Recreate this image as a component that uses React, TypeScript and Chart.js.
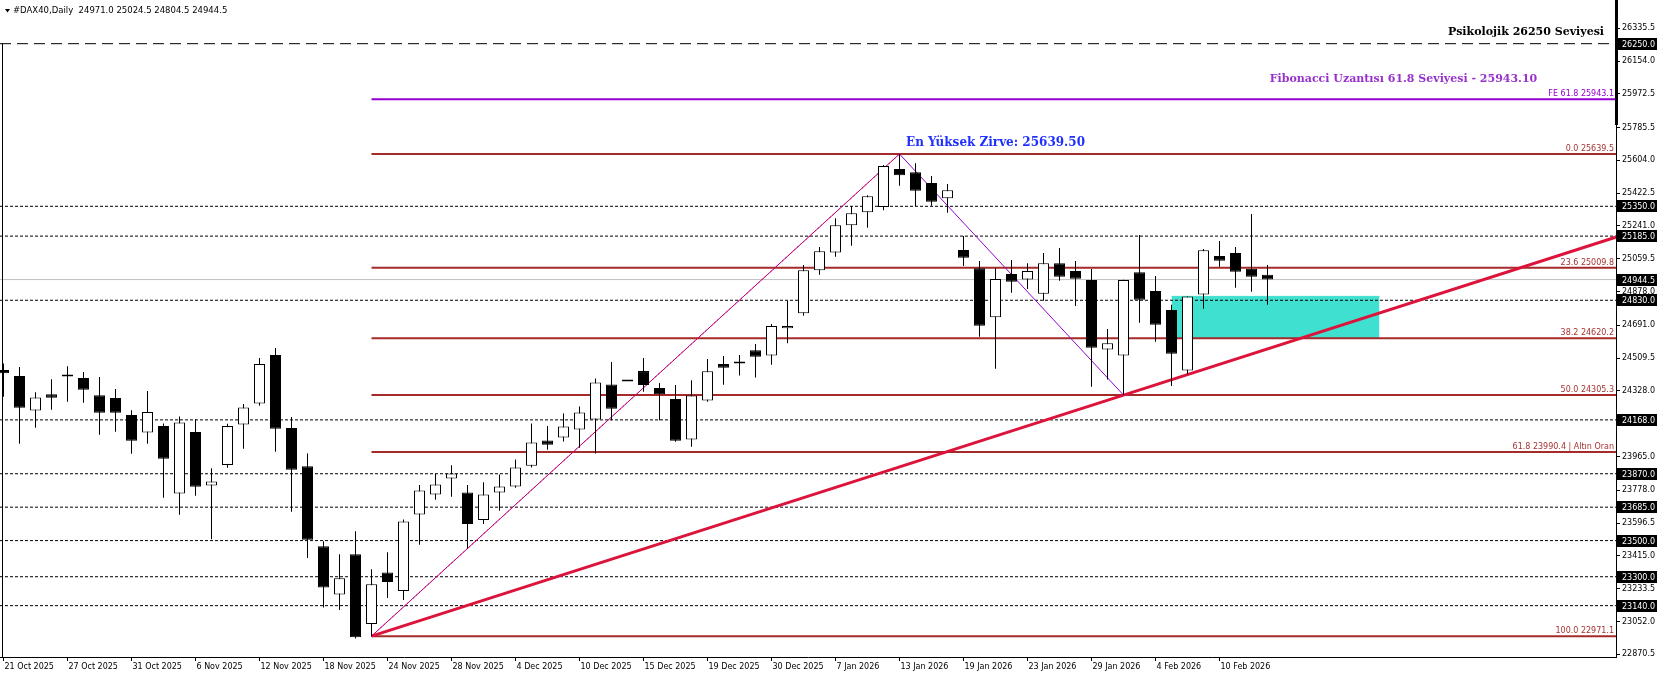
import React, { useEffect, useRef } from 'react';
import { Chart, registerables } from 'chart.js';

Chart.register(...registerables);

// ---------- data ----------
const dateLabels = [
  '21 Oct 2025', '27 Oct 2025', '31 Oct 2025', '6 Nov 2025', '12 Nov 2025', '18 Nov 2025',
  '24 Nov 2025', '28 Nov 2025', '4 Dec 2025', '10 Dec 2025', '15 Dec 2025', '19 Dec 2025',
  '30 Dec 2025', '7 Jan 2026', '13 Jan 2026', '19 Jan 2026', '23 Jan 2026', '29 Jan 2026',
  '4 Feb 2026', '10 Feb 2026',
];
const labelBars = [0, 4, 8, 12, 16, 20, 24, 28, 32, 36, 40, 44, 48, 52, 56, 60, 64, 68, 72, 76];

const opens = [
  24443.5, 24410.5, 24220.5, 24310.5, 24408.5, 24399.5, 24305, 24288.5, 24194.5, 24098.5,
  24133.5, 23760.5, 24100.5, 23805, 23919, 24143, 24259, 24526.5, 24122.5, 23912,
  23469, 23201.5, 23424.5, 23038, 23323.5, 23221.5, 23644.5, 23755.5, 23844, 23766.5,
  23614.5, 23766.5, 23799.5, 23914, 24054.5, 24071, 24115, 24170.5, 24364.5, 24381,
  24438, 24344, 24283, 24059.5, 24275.5, 24477, 24480.5, 24554, 24525, 24674.5,
  24757.5, 24995.5, 25095, 25244.5, 25316.5, 25346, 25556.5, 25538, 25479, 25394,
  25108, 25006.5, 24735.5, 24975, 24945.5, 24866, 25034.5, 24991.5, 24942, 24558,
  24525, 24984.5, 24881, 24775.5, 24442, 24862.5, 25074.5, 25091.5, 25004.5, 24971.0,
];
const highs = [
  24480.5, 24460, 24321.5, 24393.5, 24465.5, 24432.5, 24405, 24338.5, 24222, 24327.5,
  24148.5, 24187, 24172, 23901, 24146, 24255.5, 24510, 24565.5, 24183.5, 23982.5,
  23496.5, 23424.5, 23552, 23341.5, 23436, 23617, 23807, 23869.5, 23917.5, 23807,
  23823.5, 23866, 23949, 24148.5, 24133.5, 24203.5, 24242.5, 24397.5, 24488, 24381,
  24510, 24371.5, 24360.5, 24388, 24504.5, 24521, 24526.5, 24587.5, 24698.5, 24825.5,
  25025, 25124.5, 25283.5, 25351.5, 25411, 25578, 25639.5, 25588, 25517.5, 25473.5,
  25185.5, 25047, 25006.5, 25052.5, 25034.5, 25091.5, 25119, 25047, 25002.5, 24670.5,
  24944, 25191, 24964, 24805, 24851.5, 25113.5, 25158, 25124.5, 25307.5, 25024.5,
];
const lows = [
  24295.5, 24035.5, 24124, 24224, 24268, 24263.5, 24085.5, 24102, 23980, 24035.5,
  23736.5, 23642.5, 23747.5, 23508, 23902.5, 24008, 24246, 23991, 23659, 23404,
  23129.5, 23116.5, 22958, 22971.1, 23182.5, 23171.5, 23476.5, 23725.5, 23742, 23456,
  23592.5, 23664.5, 23792, 23905, 24002.5, 24048.5, 24013.5, 23982.5, 24166.5, 24381,
  24323.5, 24166.5, 24046.5, 24019, 24268, 24362, 24414, 24403, 24473, 24591.5,
  24744, 24971, 25071, 25132, 25231.5, 25328, 25464, 25350, 25353, 25314.5,
  25019.5, 24628, 24450.5, 24871.5, 24892, 24827, 24938, 24798, 24351, 24392,
  24305.3, 24705.5, 24600, 24356, 24420, 24783, 25015.5, 24899, 24877, 24804.5,
];
const closes = [
  24425.5, 24235, 24292.5, 24290, 24408.5, 24334.5, 24207, 24207, 24052, 24211,
  23952.5, 24154, 23797.5, 23827, 24133.5, 24237, 24477, 24118.5, 23891.5, 23504,
  23240.5, 23292, 22965, 23259, 23271.5, 23606, 23777.5, 23810.5, 23871.5, 23592.5,
  23755.5, 23799.5, 23905, 24043.5, 24030, 24131.5, 24209.5, 24375.5, 24229.5, 24381,
  24360.5, 24310.5, 24052, 24303.5, 24436.5, 24456.5, 24491.5, 24517, 24687, 24687,
  24995.5, 25101, 25244.5, 25311, 25405.5, 25573, 25521.5, 25436.5, 25375.5, 25438.5,
  25065.5, 24689, 24947.5, 24932.5, 24991.5, 25034.5, 24960, 24949, 24567, 24591.5,
  24942, 24833, 24694.5, 24534, 24851.5, 25106.5, 25048.5, 24988, 24960, 24944.5,
];

const priceTicks = [
  26335.5, 26154.0, 25972.5, 25785.5, 25604.0, 25422.5, 25241.0, 25059.5, 24878.0, 24691.0,
  24509.5, 24328.0, 24146.5, 23965.0, 23778.0, 23596.5, 23415.0, 23233.5, 23052.0, 22870.5,
];
const boxedPrices = [26250.0, 25350.0, 25185.0, 24944.5, 24830.0, 24168.0, 23870.0, 23685.0, 23500.0, 23300.0, 23140.0];
const dashedLevels = [25350, 25185, 24830, 24168, 23870, 23685, 23500, 23300, 23140];
const psychLevel = 26250;
const lastPrice = 24944.5;

const fibRatios = [0.0, 23.6, 38.2, 50.0, 61.8, 100.0];
const fibPrices = [25639.5, 25009.8, 24620.2, 24305.3, 23990.4, 22971.1];
const fibNotes = ['', '', '', '', ' | Altın Oran', ''];
const fibStartBar = 23;
const feLevel = 25943.1;

const upLegBars = [23, 56];
const upLegPrices = [22971.1, 25639.5];
const downLegBars = [56, 70];
const downLegPrices = [25639.5, 24305.3];
const trendBars = [23, 70];
const trendPrices = [22971.1, 24305.3];
const zoneBars = [73, 86];
const zonePrices = [24620.2, 24851.5];

const titleText = '#DAX40,Daily  24971.0 25024.5 24804.5 24944.5';
const psychText = 'Psikolojik 26250 Seviyesi';
const feText = 'Fibonacci Uzantısı 61.8 Seviyesi - 25943.10';
const peakText = 'En Yüksek Zirve: 25639.50';

// axis ranges
const X_MIN = -0.21875;
const X_MAX = 100.78125;
const Y_MIN = 22855.8;
const Y_MAX = 26491.7;

const AXIS_FONT = { family: '"DejaVu Sans", sans-serif', size: 8 };

const overlayPlugin = {
  id: 'overlay',
  afterDraw(chart: any) {
    const { ctx, chartArea: ca } = chart;
    const xs = chart.scales.x;
    const ys = chart.scales.y;
    ctx.save();

    // frame pieces
    ctx.fillStyle = '#000';
    ctx.fillRect(2, 43, 1, ca.bottom - 43);
    ctx.fillRect(ca.right - 1, 0, 3, 125);

    // title
    ctx.beginPath();
    ctx.moveTo(5, 9);
    ctx.lineTo(10, 9);
    ctx.lineTo(7.5, 12.5);
    ctx.closePath();
    ctx.fill();
    ctx.font = '8.5px "DejaVu Sans", sans-serif';
    ctx.textAlign = 'left';
    ctx.textBaseline = 'middle';
    ctx.fillText(titleText, 13, 11);

    // fib labels
    ctx.font = '8px "DejaVu Sans", sans-serif';
    ctx.textAlign = 'right';
    ctx.textBaseline = 'alphabetic';
    fibPrices.forEach((p, i) => {
      const py = ys.getPixelForValue(p);
      ctx.fillStyle = '#A83232';
      ctx.fillText(`${fibRatios[i].toFixed(1)} ${p.toFixed(1)}${fibNotes[i]}`, ca.right - 2, py - 3);
    });
    ctx.fillStyle = '#9400D3';
    ctx.fillText(`FE 61.8 ${feLevel.toFixed(1)}`, ca.right - 2, ys.getPixelForValue(feLevel) - 3);

    // serif annotations
    ctx.font = 'bold 11px "DejaVu Serif", serif';
    ctx.fillStyle = '#000';
    ctx.textAlign = 'right';
    ctx.fillText(psychText, ca.right - 12, ys.getPixelForValue(psychLevel) - 8.5);

    ctx.fillStyle = '#9932CC';
    ctx.textAlign = 'center';
    ctx.fillText(feText, xs.getPixelForValue(87.5), ys.getPixelForValue(feLevel) - 17);

    ctx.font = 'bold 12px "DejaVu Serif", serif';
    ctx.fillStyle = '#2030FF';
    ctx.fillText(peakText, xs.getPixelForValue(62), ys.getPixelForValue(fibPrices[0]) - 8);

    // boxed price labels
    ctx.font = '8px "DejaVu Sans", sans-serif';
    ctx.textAlign = 'left';
    ctx.textBaseline = 'middle';
    boxedPrices.forEach((p) => {
      const py = Math.round(ys.getPixelForValue(p));
      ctx.fillStyle = '#000';
      ctx.fillRect(ca.right + 1, py - 6, 40, 12);
      ctx.fillStyle = '#fff';
      ctx.fillText(p.toFixed(1), ca.right + 6, py + 0.5);
    });

    ctx.restore();
  },
};

function hLine(y: number, x0: number, x1: number, color: string, width: number, dash: number[], order: number) {
  return {
    type: 'line' as const,
    data: [{ x: x0, y }, { x: x1, y }],
    borderColor: color,
    borderWidth: width,
    borderDash: dash,
    pointRadius: 0,
    pointHoverRadius: 0,
    fill: false,
    tension: 0,
    order,
  };
}

export default function App() {
  const ref = useRef<HTMLCanvasElement>(null);

  useEffect(() => {
    document.body.style.margin = '0';
    const canvas = ref.current;
    if (!canvas) return;

    const bodyData = opens.map((o, i) => ({ x: i, y: [Math.min(o, closes[i]), Math.max(o, closes[i])] }));
    const bodyColors = opens.map((o, i) => (closes[i] > o ? '#ffffff' : '#000000'));
    const wickData = highs.map((h, i) => ({ x: i, y: [lows[i], h] }));

    const trendSlope = (trendPrices[1] - trendPrices[0]) / (trendBars[1] - trendBars[0]);
    const trendEnd = X_MAX + 1;
    const trendData = [
      { x: trendBars[0], y: trendPrices[0] },
      { x: trendBars[1], y: trendPrices[1] },
      { x: trendEnd, y: trendPrices[0] + trendSlope * (trendEnd - trendBars[0]) },
    ];

    const datasets: any[] = [
      {
        type: 'bar',
        data: bodyData,
        backgroundColor: bodyColors,
        borderColor: '#000',
        borderWidth: 1,
        borderSkipped: false,
        barThickness: 11,
        minBarLength: 2,
        grouped: false,
        inflateAmount: 0,
        order: 0,
      },
      {
        type: 'bar',
        data: wickData,
        backgroundColor: '#000',
        borderWidth: 0,
        barThickness: 1,
        grouped: false,
        inflateAmount: 0,
        order: 1,
      },
      {
        type: 'line',
        data: [
          { x: upLegBars[0], y: upLegPrices[0] },
          { x: upLegBars[1], y: upLegPrices[1] },
        ],
        borderColor: '#FF0000',
        borderWidth: 1,
        borderDash: [2, 2],
        pointRadius: 0,
        fill: false,
        order: 2,
      },
      {
        type: 'line',
        data: [
          { x: upLegBars[0], y: upLegPrices[0] },
          { x: upLegBars[1], y: upLegPrices[1] },
        ],
        borderColor: '#9400D3',
        borderWidth: 1,
        pointRadius: 0,
        fill: false,
        order: 3,
      },
      {
        type: 'line',
        data: [
          { x: downLegBars[0], y: downLegPrices[0] },
          { x: downLegBars[1], y: downLegPrices[1] },
        ],
        borderColor: '#9400D3',
        borderWidth: 1,
        pointRadius: 0,
        fill: false,
        order: 3,
      },
      {
        type: 'line',
        data: trendData,
        borderColor: '#DC143C',
        borderWidth: 3,
        pointRadius: 0,
        fill: false,
        clip: 0,
        order: 4,
      },
      ...fibPrices.map((p) => hLine(p, fibStartBar, X_MAX, '#A52A2A', 2, [], 5)),
      hLine(feLevel, fibStartBar, X_MAX, '#9400D3', 2, [], 5),
      ...dashedLevels.map((p) => hLine(p, X_MIN, X_MAX, '#000', 1, [3, 2], 6)),
      hLine(psychLevel, X_MIN, X_MAX, '#000', 1, [11, 6], 6),
      hLine(lastPrice, X_MIN, X_MAX, '#C0C0C0', 1, [], 7),
      {
        type: 'line',
        data: [
          { x: zoneBars[0], y: zonePrices[1] },
          { x: zoneBars[1], y: zonePrices[1] },
        ],
        borderColor: '#40E0D0',
        borderWidth: 1,
        backgroundColor: '#40E0D0',
        pointRadius: 0,
        fill: { value: zonePrices[0] },
        order: 20,
      },
    ];

    const chart = new Chart(canvas, {
      type: 'bar',
      data: { datasets },
      options: {
        responsive: false,
        animation: false,
        events: [],
        layout: { padding: 0 },
        plugins: {
          legend: { display: false },
          tooltip: { enabled: false },
          title: { display: false },
        },
        scales: {
          x: {
            type: 'linear',
            position: 'bottom',
            min: X_MIN,
            max: X_MAX,
            offset: false,
            grid: { display: true, offset: false, drawOnChartArea: false, drawTicks: true, tickLength: 4, color: '#000', lineWidth: 1 },
            border: { display: true, color: '#000', width: 1 },
            ticks: {
              autoSkip: false,
              maxRotation: 0,
              minRotation: 0,
              align: 'start',
              padding: 1,
              labelOffset: 1,
              color: '#000',
              font: AXIS_FONT,
              callback: (v: any) => {
                const k = labelBars.indexOf(Number(v));
                return k >= 0 ? dateLabels[k] : '';
              },
            },
            afterBuildTicks: (s: any) => {
              s.ticks = labelBars.map((v) => ({ value: v }));
            },
            afterFit: (s: any) => {
              s.height = 22;
              s.paddingLeft = 0;
              s.paddingRight = 0;
            },
          },
          y: {
            type: 'linear',
            position: 'right',
            min: Y_MIN,
            max: Y_MAX,
            grid: { display: true, drawOnChartArea: false, drawTicks: true, tickLength: 4, color: '#000', lineWidth: 1 },
            border: { display: true, color: '#000', width: 1 },
            ticks: {
              autoSkip: false,
              padding: 2,
              color: '#000',
              font: AXIS_FONT,
              callback: (v: any) => Number(v).toFixed(1),
            },
            afterBuildTicks: (s: any) => {
              s.ticks = priceTicks.map((v) => ({ value: v }));
            },
            afterFit: (s: any) => {
              s.width = 46;
              s.paddingTop = 0;
              s.paddingBottom = 0;
            },
          },
        },
      } as any,
      plugins: [overlayPlugin],
    });

    return () => chart.destroy();
  }, []);

  return (
    <div style={{ width: 1662, height: 679, background: '#fff' }}>
      <canvas ref={ref} width={1662} height={679} style={{ display: 'block' }} />
    </div>
  );
}
